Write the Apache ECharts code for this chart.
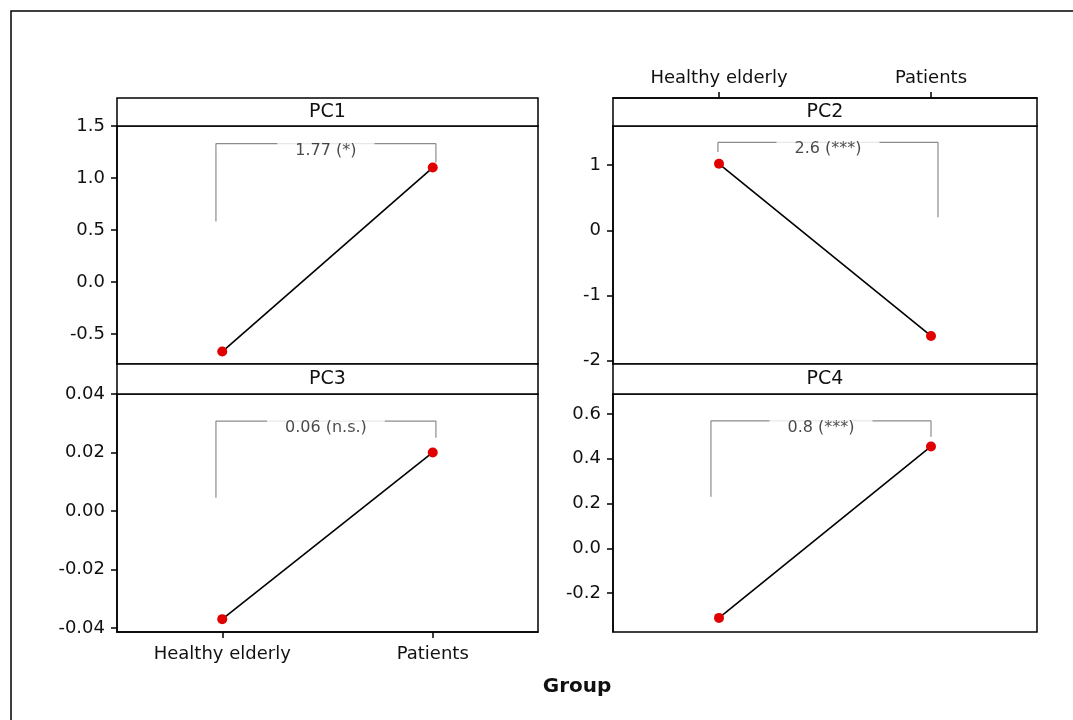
<!DOCTYPE html>
<html>
<head>
<meta charset="utf-8">
<script src="https://cdn.jsdelivr.net/npm/echarts@6/dist/echarts.min.js"></script>
<style>
  html, body { margin: 0; padding: 0; background: #fff; }
  #main { width: 1073px; height: 720px; }
</style>
</head>
<body>
<div id="main"></div>
<script>
// groups on the x axis
var groups = ['Healthy elderly', 'Patients'];

// mean score per group, one array per principal component
var pc1 = [-0.67, 1.10];
var pc2 = [1.02, -1.62];
var pc3 = [-0.037, 0.020];
var pc4 = [-0.31, 0.455];

var panelNames = ['PC1', 'PC2', 'PC3', 'PC4'];

// y ranges and tick labels
var yMin = [-0.79, -2.05, -0.0414, -0.373];
var yMax = [1.5, 1.6, 0.04, 0.689];
var pc1Ticks = [-0.5, 0, 0.5, 1.0, 1.5];
var pc2Ticks = [-2, -1, 0, 1];
var pc3Ticks = [-0.04, -0.02, 0, 0.02, 0.04];
var pc4Ticks = [-0.2, 0, 0.2, 0.4, 0.6];
var tickDecimals = [1, 0, 2, 1];

// significance brackets: text, top level, left foot, right foot
var bracketText = ['1.77 (*)', '2.6 (***)', '0.06 (n.s.)', '0.8 (***)'];
var bracketTop = [1.33, 1.35, 0.0307, 0.569];
var bracketLeftFoot = [0.58, 1.2, 0.0045, 0.231];
var bracketRightFoot = [1.15, 0.2, 0.025, 0.498];
// bracket ends on the group index scale (0 = Healthy elderly, 1 = Patients)
var bracketLeftX = [-0.03, -0.005, -0.03, -0.038];
var bracketRightX = [1.015, 1.033, 1.015, 1.0];

var values = [pc1, pc2, pc3, pc4];
var ticks = [pc1Ticks, pc2Ticks, pc3Ticks, pc4Ticks];

var FONT = 'DejaVu Sans';
var colLeft = [117, 613], colWidth = [421, 424];
var stripTop = [98, 364], plotTop = [126, 394], plotH = 238;

var chart = echarts.init(document.getElementById('main'));

var grids = [], xAxes = [], yAxes = [], series = [], graphics = [];

for (var i = 0; i < 4; i++) {
  var col = i % 2, row = Math.floor(i / 2);
  grids.push({
    left: colLeft[col], top: plotTop[row], width: colWidth[col], height: plotH,
    show: true, borderColor: '#000', borderWidth: 1.5, backgroundColor: 'transparent',
    containLabel: false, outerBoundsMode: 'none'
  });

  var showX = (i === 1 || i === 2);
  xAxes.push({
    gridIndex: i, type: 'category', data: groups, boundaryGap: true,
    position: i === 1 ? 'top' : 'bottom',
    offset: i === 1 ? 28 : 0,
    show: showX,
    axisLine: { show: true, onZero: false, lineStyle: { color: '#000', width: 1.5 } },
    axisTick: { show: true, alignWithLabel: true, length: 6, lineStyle: { color: '#000', width: 1.5 } },
    axisLabel: { color: '#111', fontFamily: FONT, fontSize: 18, margin: i === 1 ? 11 : 13 },
    splitLine: { show: false }
  });

  (function (dec) {
    yAxes.push({
      gridIndex: i, type: 'value', min: yMin[i], max: yMax[i],
      axisLine: { show: true, onZero: false, lineStyle: { color: '#000', width: 1.5 } },
      axisTick: { show: true, length: 6, customValues: ticks[i], lineStyle: { color: '#000', width: 1.5 } },
      axisLabel: {
        customValues: ticks[i], color: '#111', fontFamily: FONT, fontSize: 18, margin: 12,
        formatter: function (v) { return Number(v).toFixed(dec); }
      },
      splitLine: { show: false }
    });
  })(tickDecimals[i]);

  // data line with red points
  series.push({
    type: 'line', xAxisIndex: i, yAxisIndex: i, data: values[i],
    symbol: 'circle', symbolSize: 10, z: 5,
    lineStyle: { color: '#000', width: 1.6 },
    itemStyle: { color: '#e00000' },
    silent: true, animation: false
  });

  // strip header
  graphics.push({
    type: 'rect',
    shape: { x: colLeft[col], y: stripTop[row], width: colWidth[col], height: plotTop[row] - stripTop[row] },
    style: { fill: '#fff', stroke: '#000', lineWidth: 1.5 }
  });
  graphics.push({
    type: 'text',
    style: {
      text: panelNames[i], x: colLeft[col] + colWidth[col] / 2, y: (stripTop[row] + plotTop[row]) / 2,
      textAlign: 'center', textVerticalAlign: 'middle', fill: '#111', font: '19px "' + FONT + '"'
    }
  });
}

// hidden value x axes for the brackets (-0.5..1.5 lines up with the categories)
for (var j = 0; j < 4; j++) {
  xAxes.push({ gridIndex: j, type: 'value', min: -0.5, max: 1.5, show: false,
    axisLine: { onZero: false } });
  var ax = 4 + j;
  series.push({
    type: 'line', xAxisIndex: ax, yAxisIndex: j, symbol: 'none', silent: true, animation: false,
    lineStyle: { color: '#8c8c8c', width: 1.2 },
    data: [
      [bracketLeftX[j], bracketLeftFoot[j]],
      [bracketLeftX[j], bracketTop[j]],
      [bracketRightX[j], bracketTop[j]],
      [bracketRightX[j], bracketRightFoot[j]]
    ]
  });
  series.push({
    type: 'scatter', xAxisIndex: ax, yAxisIndex: j, symbolSize: 0, silent: true, animation: false, z: 10,
    data: [[(bracketLeftX[j] + bracketRightX[j]) / 2, bracketTop[j]]],
    label: {
      show: true, position: 'inside', offset: [0, 7],
      formatter: bracketText[j], color: '#1a1a1a', fontFamily: FONT, fontSize: 16,
      backgroundColor: '#fff', padding: [4, 18]
    }
  });
}

// outer frame and axis title
graphics.push({
  type: 'rect', shape: { x: 11, y: 11, width: 1100, height: 800 },
  style: { fill: null, stroke: '#000', lineWidth: 1.5 }, z: -1
});
graphics.push({
  type: 'text',
  style: { text: 'Group', x: 577, y: 687, textAlign: 'center', textVerticalAlign: 'middle',
    fill: '#111', font: 'bold 20px "' + FONT + '"' }
});

chart.setOption({
  animation: false,
  backgroundColor: '#fff',
  grid: grids,
  xAxis: xAxes,
  yAxis: yAxes,
  series: series,
  graphic: graphics
});
</script>
</body>
</html>
